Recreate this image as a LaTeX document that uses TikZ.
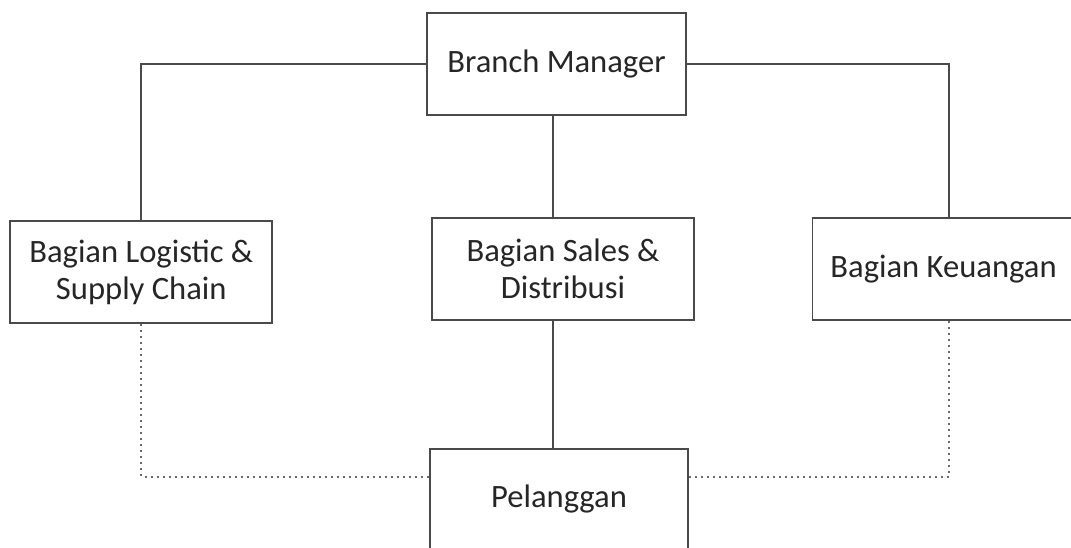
\documentclass[tikz,border=0pt]{standalone}
\usepackage{fontspec}
\setmainfont{Carlito}
\definecolor{boxline}{HTML}{4A4A4A}
\definecolor{txt}{HTML}{262626}
\definecolor{dotc}{HTML}{6A6A6A}
\begin{document}
\begin{tikzpicture}[x=1pt,y=-1pt,
  box/.style={draw=boxline, line width=1.8pt, fill=white, text=txt,
    font=\fontsize{32.6}{37}\selectfont, align=center, inner sep=0pt},
  conn/.style={draw=boxline, line width=1.8pt},
  dotline/.style={draw=dotc, line width=2pt, dash pattern=on 2pt off 4pt}]
\clip (0,0) rectangle (1071,547);
\useasboundingbox (0,0) rectangle (1071,547);
\fill[white] (0,0) rectangle (1071,547);

\coordinate (vx) at (553,0);
\coordinate (rx) at (949,0);
\coordinate (dy) at (0,476.5);

\node[box, minimum width=259pt, minimum height=102pt] (bm) at (556.5,64) {Branch Manager};
\node[box, minimum width=262pt, minimum height=102pt] (log) at (141.3,272) {Bagian Logistic \&\\Supply Chain};
\node[box, minimum width=262pt, minimum height=102pt] (sales) at (563,269) {Bagian Sales \&\\Distribusi};
\node[box, minimum width=262pt, minimum height=102pt] (keu) at (943.5,269) {Bagian Keuangan};
\node[box, minimum width=258pt, minimum height=100pt] (pel) at (559,499) {Pelanggan};

\draw[conn] (bm.west) -| (log.north);
\draw[conn] (bm.east) -| (keu.north -| rx);
\draw[conn] (bm.south -| vx) -- (sales.north -| vx);
\draw[conn] (sales.south -| vx) -- (pel.north -| vx);
\draw[dotline] (log.south) |- (pel.west |- dy);
\draw[dotline] (keu.south -| rx) |- (pel.east |- dy);
\end{tikzpicture}
\end{document}
